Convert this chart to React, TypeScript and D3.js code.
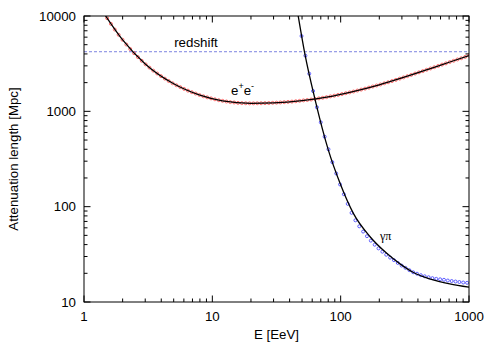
import * as d3 from "d3";

// e+e- pair production: simulated points
const eeEnergy = [
  1.514, 1.622, 1.738, 1.862, 1.995, 2.138, 2.291, 2.455, 2.63, 2.818, 3.02, 3.236, 3.467, 3.715, 3.981,
  4.266, 4.571, 4.898, 5.248, 5.623, 6.026, 6.457, 6.918, 7.413, 7.943, 8.511, 9.12, 9.772, 10.47, 11.22,
  12.02, 12.88, 13.8, 14.79, 15.85, 16.98, 18.2, 19.5, 20.89, 22.39, 23.99, 25.7, 27.54, 29.51, 31.62,
  33.88, 36.31, 38.9, 41.69, 44.67, 47.86, 51.29, 54.95, 58.88, 63.1, 67.61, 72.44, 77.62, 83.18, 89.13,
  95.5, 102.3, 109.6, 117.5, 125.9, 134.9, 144.5, 154.9, 166.0, 177.8, 190.5, 204.2, 218.8, 234.4, 251.2,
  269.2, 288.4, 309.0, 331.1, 354.8, 380.2, 407.4, 436.5, 467.7, 501.2, 537.0, 575.4, 616.6, 660.7, 707.9,
  758.6, 812.8, 871.0, 933.3, 1000,
];
const eeLength = [
  9484, 8260, 7211, 6353, 5636, 5023, 4508, 4074, 3707, 3388, 3112, 2877, 2673, 2495, 2339,
  2203, 2080, 1972, 1879, 1795, 1718, 1648, 1589, 1535, 1484, 1439, 1403, 1368, 1337, 1309,
  1288, 1268, 1250, 1239, 1227, 1219, 1216, 1213, 1213, 1215, 1216, 1219, 1222, 1227, 1233,
  1239, 1247, 1256, 1265, 1276, 1288, 1303, 1315, 1330, 1349, 1368, 1387, 1409, 1435, 1459,
  1486, 1517, 1549, 1581, 1614, 1652, 1690, 1730, 1774, 1820, 1866, 1914, 1968, 2018, 2077,
  2138, 2203, 2270, 2339, 2410, 2489, 2564, 2642, 2729, 2815, 2904, 2992, 3090, 3184, 3289,
  3388, 3499, 3606, 3724, 3837,
];

// e+e- analytic curve
const eeCurveE = [1.44, 2, 3, 5, 8, 12, 20, 30, 50, 80, 120, 200, 300, 500, 700, 1000];
const eeCurveL = [10500, 5610, 3140, 1945, 1479, 1288, 1213, 1227, 1297, 1419, 1592, 1897, 2239, 2812, 3273, 3837];

// photo-pion production: simulated points
const gpEnergy = [
  49.55, 53.09, 56.89, 60.95, 65.31, 69.98, 74.99, 80.35, 86.1, 92.26, 98.86, 105.9, 113.5, 121.6, 130.3,
  139.6, 149.6, 160.3, 171.8, 184.1, 197.2, 211.3, 226.5, 242.7, 260.0, 278.6, 298.5, 319.9, 342.8, 367.3,
  393.6, 421.7, 451.9, 484.2, 518.8, 555.9, 595.7, 638.3, 683.9, 732.8, 785.2, 841.4, 901.6, 966.1,
];
const gpLength = [
  6166, 3837, 2483, 1633, 1102, 767, 542, 400, 293, 223, 171, 135, 107, 86.1, 71.9,
  62.2, 54.8, 49.0, 44.0, 39.9, 36.5, 33.7, 31.3, 29.2, 27.5, 25.7, 24.1, 22.8, 21.6, 20.5,
  19.8, 19.1, 18.6, 18.2, 17.8, 17.5, 17.3, 17.1, 16.8, 16.6, 16.4, 16.2, 16.0, 15.9, 15.7,
];

// photo-pion analytic curve
const gpCurveE = [46.3, 52.8, 63.1, 80.2, 98.9, 125.6, 169.5, 228.6, 290, 369, 501, 708, 1000];
const gpCurveL = [10700, 3900, 1337, 392, 176, 85.1, 48.4, 32.4, 25.1, 20.4, 17.4, 15.5, 14.3];

const redshiftLength = 4220;

const xMajor = [1, 10, 100, 1000];
const yMajor = [10, 100, 1000, 10000];

const W = 493;
const H = 346;
const margin = { left: 84, right: 24, top: 16, bottom: 44 };

export default function App() {
  const x = d3.scaleLog().domain([1, 1000]).range([margin.left, W - margin.right]);
  const y = d3.scaleLog().domain([10, 10000]).range([H - margin.bottom, margin.top]);
  const [x0, x1] = x.range();
  const [y0, y1] = y.range();

  const xMinor: number[] = [];
  xMajor.slice(0, -1).forEach((d) => {
    for (let k = 2; k <= 9; k++) xMinor.push(d * k);
  });
  const yMinor: number[] = [];
  yMajor.slice(0, -1).forEach((d) => {
    for (let k = 2; k <= 9; k++) yMinor.push(d * k);
  });

  const line = d3
    .line<[number, number]>()
    .x((d) => x(d[0]))
    .y((d) => y(d[1]))
    .curve(d3.curveMonotoneX);

  const eeCurve = line(eeCurveE.map((e, i) => [e, eeCurveL[i]]));
  const gpCurve = line(gpCurveE.map((e, i) => [e, gpCurveL[i]]));

  const font = "'Liberation Sans', Arial, sans-serif";
  const major = 6.5;
  const minor = 3.5;

  return (
    <svg
      width={W}
      height={H}
      style={{ position: "absolute", left: 0, top: 0, background: "#fff" }}
      fontFamily={font}
    >
      <defs>
        <clipPath id="plot">
          <rect x={x0} y={y1} width={x1 - x0} height={y0 - y1} />
        </clipPath>
      </defs>

      {/* ticks, mirrored on all four sides */}
      <g stroke="#000" strokeWidth={1}>
        {xMajor.map((d) => (
          <g key={"xM" + d}>
            <line x1={x(d)} x2={x(d)} y1={y0} y2={y0 - major} />
            <line x1={x(d)} x2={x(d)} y1={y1} y2={y1 + major} />
          </g>
        ))}
        {xMinor.map((d) => (
          <g key={"xm" + d}>
            <line x1={x(d)} x2={x(d)} y1={y0} y2={y0 - minor} />
            <line x1={x(d)} x2={x(d)} y1={y1} y2={y1 + minor} />
          </g>
        ))}
        {yMajor.map((d) => (
          <g key={"yM" + d}>
            <line x1={x0} x2={x0 + major} y1={y(d)} y2={y(d)} />
            <line x1={x1} x2={x1 - major} y1={y(d)} y2={y(d)} />
          </g>
        ))}
        {yMinor.map((d) => (
          <g key={"ym" + d}>
            <line x1={x0} x2={x0 + minor} y1={y(d)} y2={y(d)} />
            <line x1={x1} x2={x1 - minor} y1={y(d)} y2={y(d)} />
          </g>
        ))}
      </g>

      {/* tick labels */}
      <g fontSize={13.3} fill="#000">
        {xMajor.map((d) => (
          <text key={"xl" + d} x={x(d)} y={y0 + 18.5} textAnchor="middle">
            {d}
          </text>
        ))}
        {yMajor.map((d) => (
          <text key={"yl" + d} x={x0 - 8} y={y(d)} dy="0.36em" textAnchor="end">
            {d}
          </text>
        ))}
      </g>

      {/* redshift line */}
      <line
        x1={x0}
        x2={x1}
        y1={y(redshiftLength)}
        y2={y(redshiftLength)}
        stroke="#5a64d8"
        strokeWidth={0.8}
        strokeDasharray="3,2"
      />

      <g clipPath="url(#plot)">
        {eeEnergy.map((e, i) => (
          <circle
            key={"ee" + i}
            cx={x(e)}
            cy={y(eeLength[i])}
            r={1.5}
            fill="none"
            stroke="#ff3030"
            strokeOpacity={0.75}
            strokeWidth={0.9}
          />
        ))}
        {gpEnergy.map((e, i) => (
          <circle
            key={"gp" + i}
            cx={x(e)}
            cy={y(gpLength[i])}
            r={1.5}
            fill="none"
            stroke="#2a2aff"
            strokeOpacity={0.8}
            strokeWidth={0.9}
          />
        ))}
        <path d={eeCurve ?? ""} fill="none" stroke="#000" strokeWidth={1.3} />
        <path d={gpCurve ?? ""} fill="none" stroke="#000" strokeWidth={1.3} />
      </g>

      {/* frame */}
      <rect x={x0} y={y1} width={x1 - x0} height={y0 - y1} fill="none" stroke="#000" strokeWidth={1} />

      {/* annotations */}
      <text x={196} y={47} fontSize={13.3} textAnchor="middle">
        redshift
      </text>
      <text x={231} y={95} fontSize={13.3}>
        e
        <tspan fontSize={9} dy={-6}>+</tspan>
        <tspan dy={6}>e</tspan>
        <tspan fontSize={9} dy={-6}>-</tspan>
      </text>
      <text x={380} y={240} fontSize={12} fontFamily="'Liberation Serif', 'Times New Roman', serif">
        γπ
      </text>

      {/* axis titles */}
      <text x={(x0 + x1) / 2} y={339} fontSize={13.3} textAnchor="middle">
        E [EeV]
      </text>
      <text
        transform={`translate(18, ${(y0 + y1) / 2}) rotate(-90)`}
        fontSize={13.3}
        textAnchor="middle"
      >
        Attenuation length [Mpc]
      </text>
    </svg>
  );
}
